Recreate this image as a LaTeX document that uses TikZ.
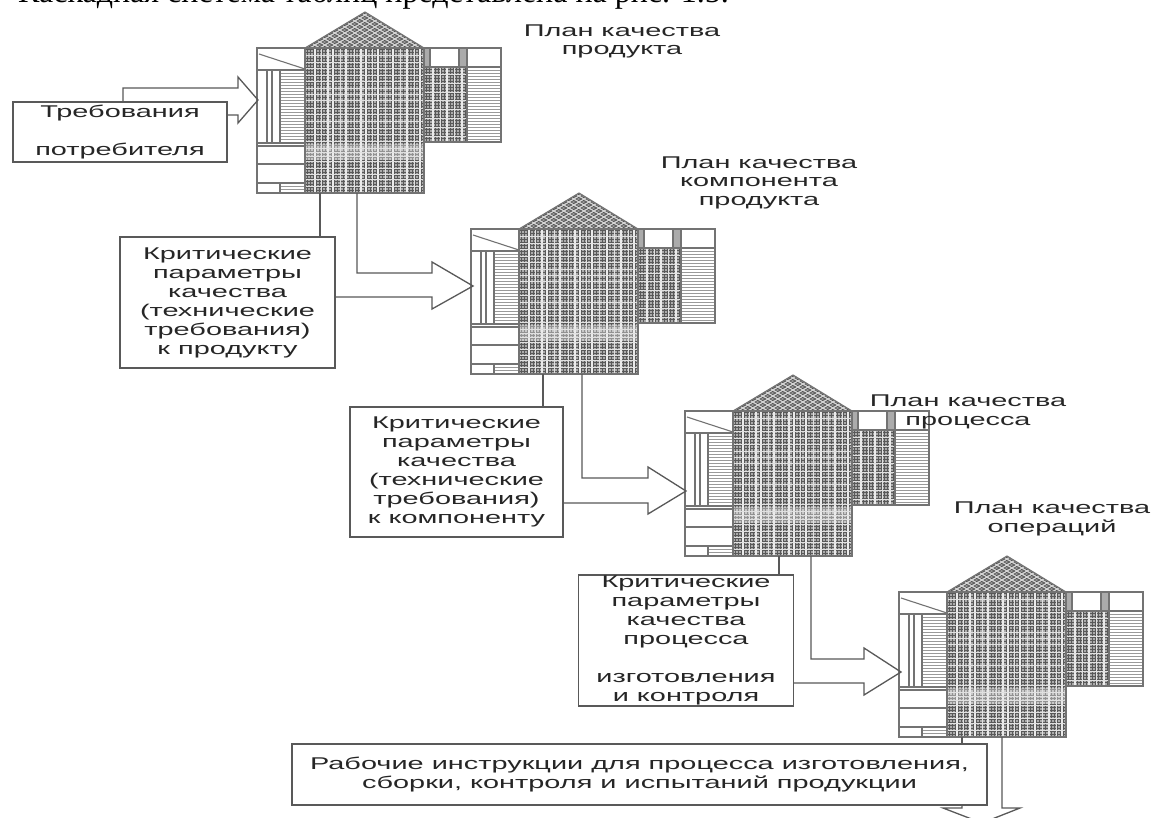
\documentclass[tikz,border=0pt]{standalone}
\usepackage{fontspec}
\newfontfamily\wf[FakeStretch=1.7]{Liberation Sans}
\newfontfamily\topserif{Liberation Serif}
\usetikzlibrary{calc}
\tikzset{
  frame/.style={draw=black!55, line width=1.1pt},
  conn/.style={draw=black!65, line width=1.3pt, line join=miter},
  gdark/.style={draw=black!65, line width=0.5pt},
  gwhite/.style={draw=white!92!black, line width=1.4pt},
  gthin/.style={draw=white!88!black, line width=0.8pt},
  hwhite/.style={draw=white, line width=1.1pt},
  box/.style={draw=black!65, line width=1.3pt, fill=white, align=center, inner xsep=5pt, inner ysep=0pt,
    font=\wf\fontsize{17}{19}\selectfont, text=black!85},
  title/.style={align=center, inner sep=0pt, font=\wf\fontsize{17}{18.5}\selectfont, text=black!85},
  qfd/.pic={
    % ---- roof
    \begin{scope}
      \clip (48,0) -- (108,-36) -- (167,0) -- cycle;
      \fill[black!40] (40,-40) rectangle (175,1);
      \foreach \a in {-60,-55,...,240} {
        \draw[black!70, line width=0.5pt] (\a,0) -- ++(80,-48);
        \draw[black!70, line width=0.5pt] (\a,0) -- ++(-80,-48);
      }
      \foreach \a in {-57,-47,...,240} {
        \draw[white!85!black, line width=1pt] (\a,0) -- ++(80,-48);
        \draw[white!85!black, line width=1pt] (\a,0) -- ++(-80,-48);
      }
    \end{scope}
    \draw[frame] (48,0) -- (108,-36) -- (167,0);
    % ---- left part
    \fill[white] (0,0) rectangle (48,145);
    \fill[black!40] (23,22) rectangle (48,95);
    \foreach \y in {24,27,...,94} \draw[hwhite] (23,\y) -- (48,\y);
    \fill[black!40] (23,135) rectangle (48,145);
    \foreach \y in {137,140,143} \draw[hwhite] (23,\y) -- (48,\y);
    \draw[frame] (0,0) rectangle (48,145);
    \draw[frame] (2,6) -- (48,21);
    \draw[frame] (0,22) -- (48,22);
    \draw[frame] (10,22) rectangle (15,95);
    \draw[frame] (23,22) -- (23,95);
    \draw[frame] (0,95) -- (48,95);
    \draw[frame] (0,98) -- (48,98);
    \draw[frame] (0,116) -- (48,116);
    \draw[frame] (0,135) -- (48,135);
    \draw[frame] (23,135) -- (23,145);
    % ---- central grid
    \fill[black!33] (48,0) rectangle (167,145);
    \foreach \x in {50,53,...,166} \draw[gdark] (\x,0) -- (\x,145);
    \foreach \y in {1.5,4.5,...,144} \draw[gdark] (48,\y) -- (167,\y);
    \fill[white, opacity=0.35] (48,96) rectangle (167,112);
    \foreach \x in {58,71,76,89,104,109,121,136,150,163}
      \draw[gwhite] (\x,0) -- (\x,145);
    \foreach \x in {64,83,97,115,128,143,157}
      \draw[gthin] (\x,0) -- (\x,145);
    \foreach \y in {7,14,20,27,33,40,46,52,60,66,73,80,86,93,100,104,108,113,120,126,131,138}
      \draw[gthin] (48,\y) -- (167,\y);
    \draw[frame] (48,0) rectangle (167,145);
    % ---- right part
    \fill[white] (167,0) rectangle (244,19);
    \fill[black!33] (167,0) rectangle (173,19);
    \fill[black!33] (202,0) rectangle (210,19);
    \fill[black!33] (167,19) rectangle (210,94);
    \foreach \x in {169,172,...,209} \draw[gdark] (\x,19) -- (\x,94);
    \foreach \y in {21,24,...,93} \draw[gdark] (167,\y) -- (210,\y);
    \foreach \x in {176,190,205} \draw[gwhite] (\x,19) -- (\x,94);
    \foreach \x in {183,197} \draw[gthin] (\x,19) -- (\x,94);
    \foreach \y in {26,35,44,52,61,70,79,88} \draw[gthin] (167,\y) -- (210,\y);
    \fill[black!40] (210,19) rectangle (244,94);
    \foreach \y in {21,24,...,93} \draw[hwhite] (210,\y) -- (244,\y);
    \draw[frame] (167,0) rectangle (244,94);
    \draw[frame] (167,19) -- (244,19);
    \draw[frame] (173,0) -- (173,19);
    \draw[frame] (202,0) -- (202,19);
    \draw[frame] (210,0) -- (210,94);
  }
}
\begin{document}
\begin{tikzpicture}[x=1pt,y=-1pt]
\useasboundingbox (0,0) rectangle (1153,817);
\fill[white] (0,0) rectangle (1153,817);

% line of running text cut by the top edge (only the lowest part of it is on the page)
\begin{scope}
  \clip (0,0) rectangle (1153,817);
  \node[anchor=base west, inner sep=0pt] (topline) at (18,2)
    {\topserif\fontsize{32}{34}\selectfont Каскадная система таблиц представлена на рис. 1.5.};
\end{scope}

% house-of-quality matrices
\coordinate (h1) at (257,48);
\coordinate (h2) at (471,229);
\coordinate (h3) at (685,411);
\coordinate (h4) at (899,592);
\pic at (h1) {qfd};
\pic at (h2) {qfd};
\pic at (h3) {qfd};
\pic at (h4) {qfd};

% titles
\node[title] (t1) at (622,41.5) {План качества\\продукта};
\node[title] (t2) at (759,182.5) {План качества\\компонента\\продукта};
\node[title] (t3) at (968,412) {План качества\\процесса};
\node[title] (t4) at (1052,519) {План качества\\операций};

% boxes
\node[box, minimum width=214pt, minimum height=60pt] (b1) at (120,132)
  {Требования\\[19pt]потребителя};
\node[box, minimum width=215pt, minimum height=131pt] (b2) at (227.5,302.5)
  {Критические\\параметры\\качества\\(технические\\требования)\\к продукту};
\node[box, minimum width=213pt, minimum height=130pt] (b3) at (456.5,472)
  {Критические\\параметры\\качества\\(технические\\требования)\\к компоненту};
\node[box, minimum width=215pt, minimum height=131pt] (b4) at (686,640.5)
  {Критические\\параметры\\качества\\процесса\\[19pt]изготовления\\и контроля};
\node[box, minimum width=695pt, minimum height=61pt] (b5) at (639.5,774.5)
  {Рабочие инструкции для процесса изготовления,\\сборки, контроля и испытаний продукции};

% connectors and block arrows
\coordinate (tip1) at (258,100);
\coordinate (tip2) at (473,286);
\coordinate (tip3) at (686,491);
\coordinate (tip4) at (901,672);
\coordinate (tip5) at (982,823);

\draw[conn] (b1.north -| 123,0) -- (123,88) -- (238,88) -- (238,77) -- (tip1)
  -- (238,123) -- (238,115) -- (b1.east |- 0,115);

\draw[conn] ($(h1)+(63,145)$) -- (b2.north -| 320,0);
\draw[conn] ($(h1)+(100,145)$) -- (357,273) -- (432,273) -- (432,262) -- (tip2)
  -- (432,309) -- (432,297) -- (b2.east |- 0,297);

\draw[conn] ($(h2)+(72,145)$) -- (b3.north -| 543,0);
\draw[conn] ($(h2)+(111,145)$) -- (582,478) -- (648,478) -- (648,467) -- (tip3)
  -- (648,514) -- (648,503) -- (b3.east |- 0,503);

\draw[conn] ($(h3)+(94,145)$) -- (b4.north -| 779,0);
\draw[conn] ($(h3)+(126,145)$) -- (811,659) -- (864,659) -- (864,648) -- (tip4)
  -- (864,695) -- (864,683) -- (b4.east |- 0,683);

\draw[conn] ($(h4)+(63,145)$) -- (b5.north -| 962,0);
\draw[conn] ($(h4)+(103,145)$) -- (1002,808) -- (1020,808) -- (tip5)
  -- (943,808) -- (962,808) -- (b5.south -| 962,0);
\end{tikzpicture}
\end{document}
